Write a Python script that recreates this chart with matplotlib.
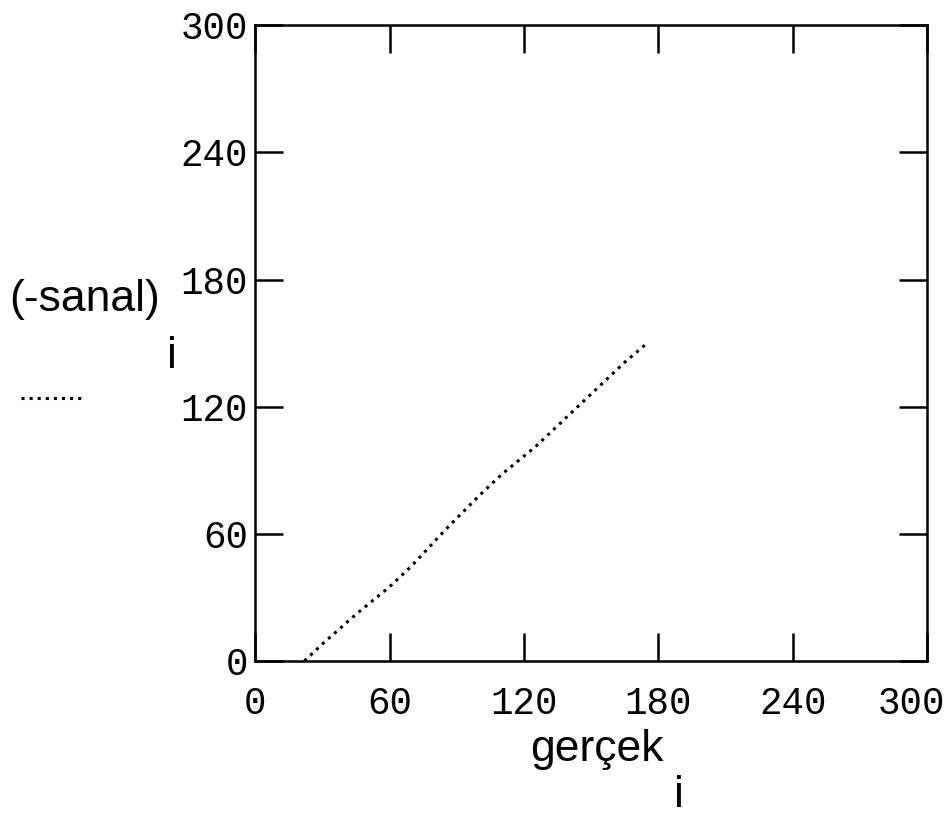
import matplotlib
matplotlib.use('Agg')
import matplotlib.pyplot as plt
from matplotlib.lines import Line2D
from matplotlib.transforms import ScaledTranslation

# values
gercek = [22, 30, 45, 60, 70, 85, 100, 110, 125, 140, 155, 165, 175]
sanal = [0, 8, 22, 35, 45, 62, 78, 88, 101, 116, 131, 141, 150]
ticks = [0, 60, 120, 180, 240, 300]

fig = plt.figure(figsize=(9.52, 8.15), dpi=100)
ax = fig.add_axes([0.268, 0.189, 0.706, 0.78])

ax.plot(gercek, sanal, linestyle=':', color='black', linewidth=2.2)

ax.set_xlim(0, 300); ax.set_ylim(0, 300)
ax.set_xticks(ticks); ax.set_yticks(ticks)
for sp in ax.spines.values():
    sp.set_linewidth(1.8)
ax.tick_params(direction='in', length=20, width=1.8, top=True, right=True,
               labelsize=27)
ax.tick_params(axis='x', pad=18)
ax.tick_params(axis='y', pad=5)
for lab in ax.get_xticklabels() + ax.get_yticklabels():
    lab.set_family('Liberation Mono')
# keep the last x label inside the figure
last = ax.get_xticklabels()[-1]
last.set_transform(last.get_transform() + ScaledTranslation(-0.16, 0, fig.dpi_scale_trans))

# axis labels, Mathcad style with subscript i
fig.text(0.010, 0.618, '(-sanal)', fontsize=32, family='Liberation Sans', va='baseline')
fig.text(0.175, 0.548, 'i', fontsize=32, family='Liberation Sans', va='baseline')
fig.add_artist(Line2D([0.022, 0.085], [0.512, 0.512], transform=fig.transFigure,
                      color='black', linestyle=':', linewidth=2.2))
fig.text(0.557, 0.066, 'gerçek', fontsize=32, family='Liberation Sans', va='baseline')
fig.text(0.708, 0.010, 'i', fontsize=32, family='Liberation Sans', va='baseline')

fig.savefig('out.png', dpi=100)
